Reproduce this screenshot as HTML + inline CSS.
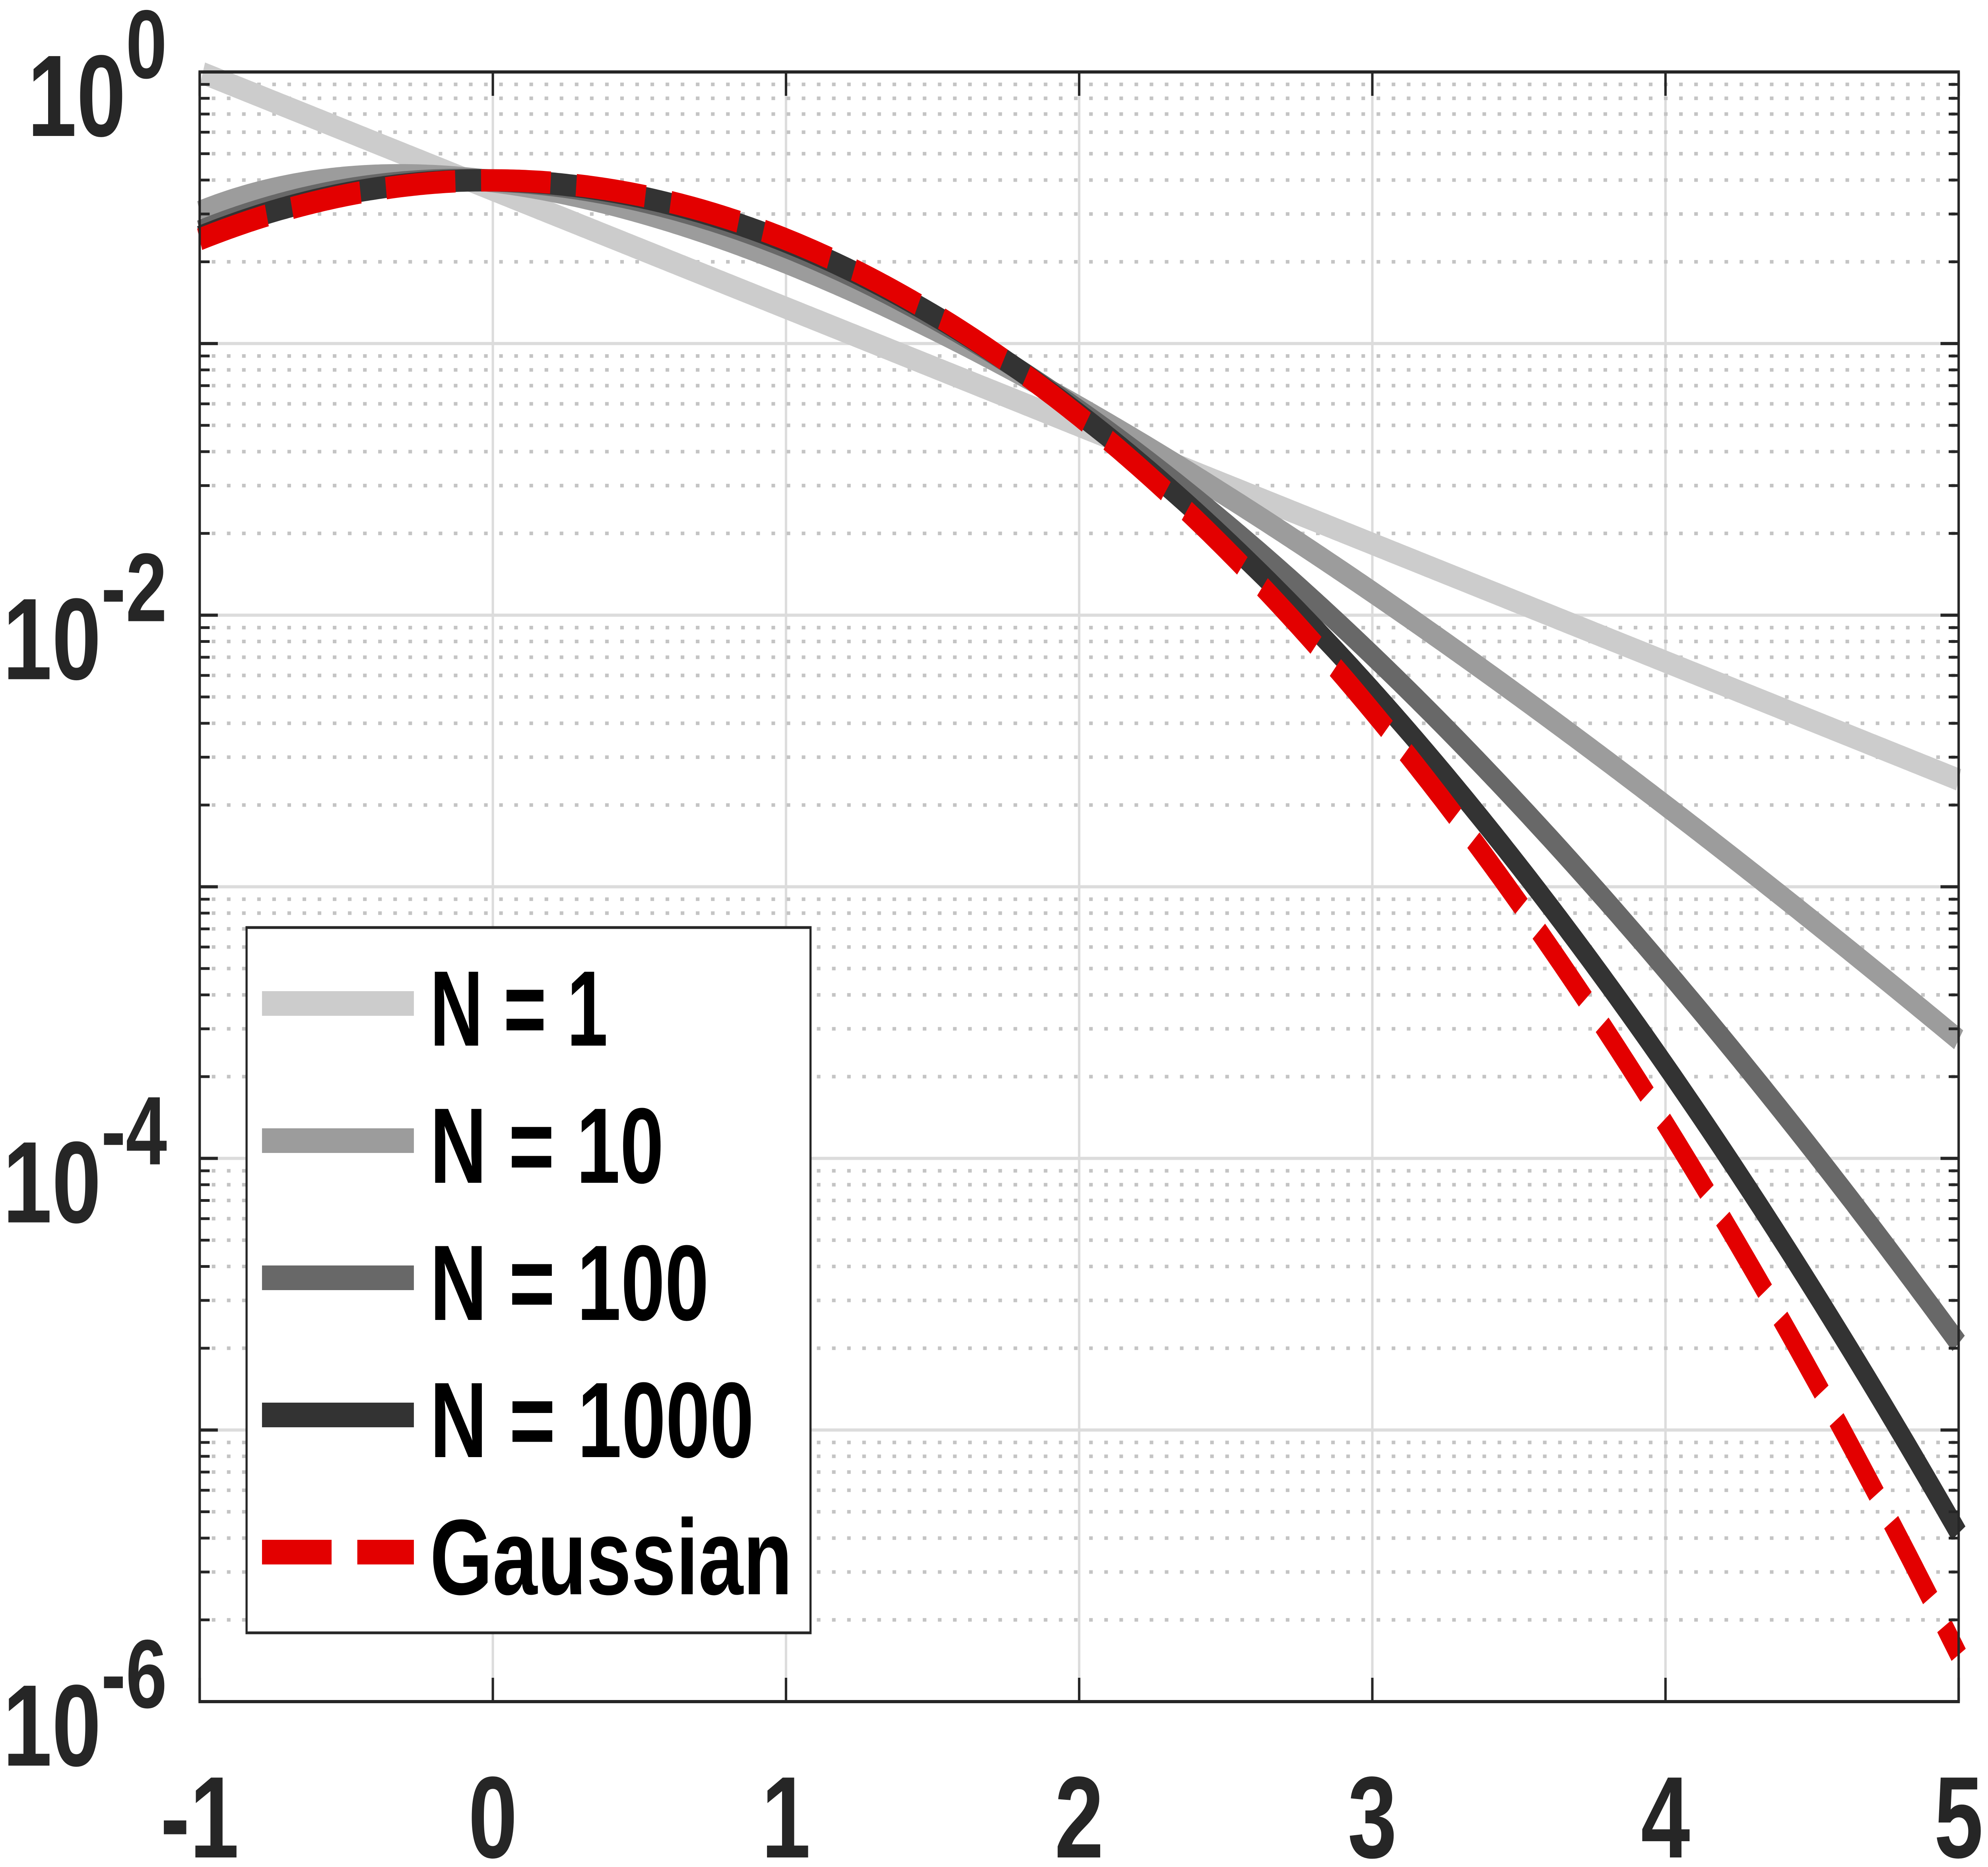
<!DOCTYPE html>
<html><head><meta charset="utf-8"><style>html,body{margin:0;padding:0;background:#fff;width:100vw;height:100vh;overflow:hidden;}svg{display:block;width:100vw;height:100vh}</style></head>
<body>
<svg id="s" xmlns="http://www.w3.org/2000/svg" viewBox="0 0 6571 4696" preserveAspectRatio="none" font-family="Liberation Sans, sans-serif" font-weight="bold">
<rect width="6571" height="4696" fill="#fff"/>
<g id="grid"></g>
<g id="curves"></g>
<g id="axes"></g>
<g id="legend"></g>
</svg>
<script>
const NS="http://www.w3.org/2000/svg";
const L=660,R=6474,T=181,B=4280;
const X=x=>L+(x+1)*(R-L)/6;
const Y=ly=>T+(-ly)*(B-T)/6;
function el(p,tag,a,txt){const e=document.createElementNS(NS,tag);for(const k in a)e.setAttribute(k,a[k]);if(txt!==undefined)e.textContent=txt;document.getElementById(p).appendChild(e);return e;}
for(let i=-1;i<=5;i++){el('grid','line',{x1:X(i),x2:X(i),y1:T,y2:B,stroke:'#dcdcdc','stroke-width':8});}
for(let d=0;d>=-6;d--){el('grid','line',{x1:L,x2:R,y1:Y(d),y2:Y(d),stroke:'#dcdcdc','stroke-width':8});
 if(d>-6)for(let m=2;m<=9;m++){const y=Y(d-1+Math.log10(m));el('grid','line',{x1:L+40,x2:R,y1:y,y2:y,stroke:'#c4c4c4','stroke-width':9,'stroke-dasharray':'12,38'});}}
function lg(z){const g=7,c=[0.99999999999980993,676.5203681218851,-1259.1392167224028,771.32342877765313,-176.61502916214059,12.507343278686905,-0.13857109526572012,9.9843695780195716e-6,1.5056327351493116e-7];z-=1;let x=c[0];for(let i=1;i<9;i++)x+=c[i]/(z+i);const t=z+g+0.5;return 0.5*Math.log(2*Math.PI)+(z+0.5)*Math.log(t)-t+Math.log(x);}
function logf(N,x){const s=N+x*Math.sqrt(N);if(s<=0)return null;return Math.log(Math.sqrt(N))+(N-1)*Math.log(s)-s-lg(N);}
function path(fn){let d='';for(let i=0;i<=600;i++){const x=-1+6*i/600;const v=fn(x);if(v===null)continue;const ly=v/Math.LN10;d+=(d?'L':'M')+X(x).toFixed(1)+','+Y(ly).toFixed(1);}return d;}
const ser=[[1,'#cccccc'],[10,'#9c9c9c'],[100,'#686868'],[1000,'#333333']];
for(const [N,c] of ser){el('curves','path',{d:path(x=>logf(N,x)),fill:'none',stroke:c,'stroke-width':56});}
el('curves','path',{d:path(x=>-x*x/2-0.5*Math.log(2*Math.PI)),fill:'none',stroke:'#e30000','stroke-width':56,'stroke-dasharray':'230,85'});
el('axes','rect',{x:L,y:T,width:R-L,height:B-T,fill:'none',stroke:'#262626','stroke-width':8});
for(let i=-1;i<=5;i++){el('axes','line',{x1:X(i),x2:X(i),y1:B,y2:B-60,stroke:'#262626','stroke-width':8});el('axes','line',{x1:X(i),x2:X(i),y1:T,y2:T+60,stroke:'#262626','stroke-width':8});
 el('axes','text',{x:X(i),y:4672,'text-anchor':'middle','font-size':292,fill:'#262626'},String(i));}
for(let d=0;d>=-6;d--){el('axes','line',{x1:L,x2:L+60,y1:Y(d),y2:Y(d),stroke:'#262626','stroke-width':8});el('axes','line',{x1:R,x2:R-60,y1:Y(d),y2:Y(d),stroke:'#262626','stroke-width':8});
 if(d>-6)for(let m=2;m<=9;m++){const y=Y(d-1+Math.log10(m));el('axes','line',{x1:L,x2:L+33,y1:y,y2:y,stroke:'#262626','stroke-width':7});el('axes','line',{x1:R,x2:R-33,y1:y,y2:y,stroke:'#262626','stroke-width':7});}
 if(d%2===0){const t=el('axes','text',{x:552,y:Y(d)+161,'text-anchor':'end',fill:'#262626','font-size':292});
  const a=document.createElementNS(NS,'tspan');a.textContent='10';t.appendChild(a);
  const b=document.createElementNS(NS,'tspan');b.setAttribute('font-size',245);b.setAttribute('dy',-146);b.textContent=String(d);t.appendChild(b);}}
el('legend','rect',{x:815,y:2333,width:1864,height:1774,fill:'#fff',stroke:'#262626','stroke-width':7});
const lab=['N = 1','N = 10','N = 100','N = 1000','Gaussian'];const ys=[2524,2869,3214,3559,3904];
const tl=[588,773,922,1071,1198];
const cols=['#cccccc','#9c9c9c','#686868','#333333','#e30000'];
for(let i=0;i<5;i++){el('legend','line',{x1:866,x2:1368,y1:ys[i],y2:ys[i],stroke:cols[i],'stroke-width':62,'stroke-dasharray':i==4?'230,85':'none'});
 el('legend','text',{x:1421,y:ys[i]+106,'font-size':270,fill:'#000',textLength:tl[i],lengthAdjust:'spacingAndGlyphs'},lab[i]);}
</script>
</body></html>
